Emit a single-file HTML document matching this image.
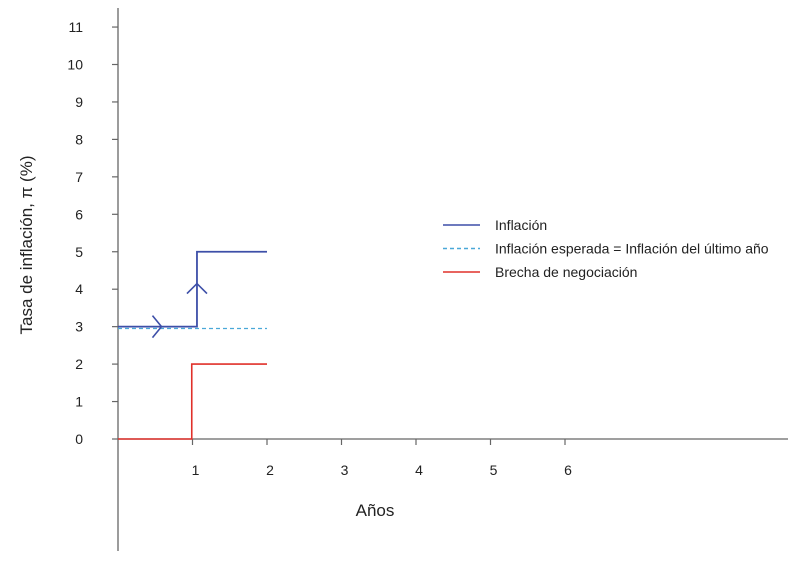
<!DOCTYPE html>
<html><head><meta charset="utf-8">
<style>
body{margin:0;background:#fff;}
svg{display:block;font-family:"Liberation Sans",sans-serif;}
</style></head>
<body>
<svg id="chart" width="810" height="561" xmlns="http://www.w3.org/2000/svg"></svg>
<script>
const yTicks=[0,1,2,3,4,5,6,7,8,9,10,11];
const xTicks=[1,2,3,4,5,6];
const inflX=[0,1.06,1.06,2];
const inflY=[3,3,5,5];
const expX=[0,2];
const expY=[2.95,2.95];
const gapX=[0,0.99,0.99,2];
const gapY=[0,0,2,2];
const legendLabels=["Inflación","Inflación esperada = Inflación del último año","Brecha de negociación"];
const NS="http://www.w3.org/2000/svg";
const svg=document.getElementById('chart');
const X=v=>118+v*74.5;
const Y=v=>439-v*37.45;
function el(t,a,p){const e=document.createElementNS(NS,t);for(const k in a)e.setAttribute(k,a[k]);(p||svg).appendChild(e);return e;}
let ax=el('line',{x1:118,y1:8,x2:118,y2:551,stroke:'#666','stroke-width':1.3});


let bx=el('line',{x1:118,y1:439,x2:788,y2:439,stroke:'#666','stroke-width':1.3});


yTicks.forEach(v=>{
  let t=el('line',{x1:112,y1:Y(v),x2:118,y2:Y(v),stroke:'#666','stroke-width':1.2});
  
  
  let l=el('text',{x:83,y:Y(v)+5,'font-size':14,fill:'#222','text-anchor':'end'});
  l.textContent=v;
  
  
});
xTicks.forEach(v=>{
  let t=el('line',{x1:X(v),y1:439,x2:X(v),y2:445,stroke:'#666','stroke-width':1.2});
  
  
  let l=el('text',{x:X(v)+3,y:475,'font-size':14,fill:'#222','text-anchor':'middle'});
  l.textContent=v;
  
  
});
let xt=el('text',{x:375,y:516,'font-size':17,fill:'#222','text-anchor':'middle'});
xt.textContent='Años';


let yt=el('text',{x:0,y:0,'font-size':17,fill:'#222','text-anchor':'middle',transform:'translate(32,245) rotate(-90)'});
yt.textContent='Tasa de inflación, π (%)';


function path(xs,ys){return xs.map((x,i)=>(i?'L':'M')+X(x)+','+Y(ys[i])).join(' ');}
let e1=el('path',{d:path(expX,expY),stroke:'#4aa8d8','stroke-width':1.3,fill:'none','stroke-dasharray':'4,3'});


let g1=el('path',{d:path(gapX,gapY),stroke:'#e0302a','stroke-width':1.6,fill:'none'});


let i1=el('path',{d:path(inflX,inflY),stroke:'#3d4fa8','stroke-width':1.8,fill:'none'});


const ax1=X((inflX[0]+inflX[1])/2)+4, ay1=Y(inflY[0]);
let a1=el('path',{d:`M${ax1-9},${ay1-11} L${ax1},${ay1} L${ax1-9},${ay1+11}`,stroke:'#3d4fa8','stroke-width':1.6,fill:'none'});


const ax2=X(inflX[1]), ay2=Y((inflY[1]+inflY[2])/2+0.15);
let a2=el('path',{d:`M${ax2-10},${ay2+10} L${ax2},${ay2} L${ax2+10},${ay2+10}`,stroke:'#3d4fa8','stroke-width':1.6,fill:'none'});


const lc=['#3d4fa8','#4aa8d8','#e0302a'];
legendLabels.forEach((s,i)=>{
  const y=225+i*23.5;
  let g=el('g',{});
  
  
  el('line',{x1:443,y1:y,x2:480,y2:y,stroke:lc[i],'stroke-width':1.4,'stroke-dasharray':i==1?'4,3':'none'},g);
  let t=el('text',{x:495,y:y+5,'font-size':14,fill:'#222'},g);
  t.textContent=s;
});
</script>
</body></html>
